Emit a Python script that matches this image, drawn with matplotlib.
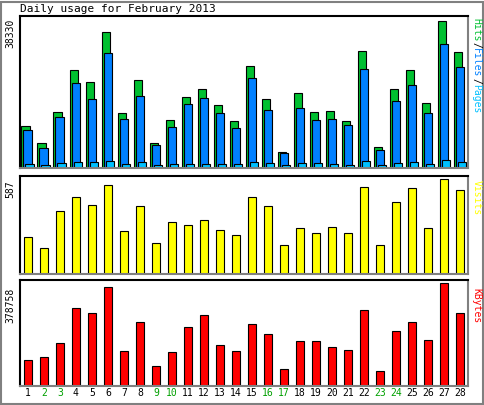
import matplotlib
matplotlib.use("Agg")
import matplotlib.pyplot as plt
from matplotlib.patches import Rectangle

days = list(range(1, 29))
hits = [10840, 6610, 14540, 25380, 22470, 35420, 14270, 23000, 6610, 12420, 18500, 20620, 16390, 12160,
        26430, 17970, 4230, 19560, 14540, 14800, 12160, 30400, 5550, 20620, 25380, 16920, 38330, 30130]
files = [9780, 5290, 13220, 22200, 17970, 29870, 12690, 18770, 6080, 10570, 16650, 18240, 14270, 10310,
         23520, 15070, 3960, 15590, 12420, 12690, 11100, 25640, 4760, 17440, 21670, 14270, 32250, 26170]
pages = [1100, 800, 1300, 1600, 1500, 1900, 1000, 1600, 800, 1000, 1000, 1000, 1000, 1000,
         1700, 1300, 800, 1300, 1300, 1000, 800, 1900, 800, 1300, 1500, 1000, 2200, 1700]
visits = [232, 161, 387, 477, 426, 548, 264, 419, 194, 323, 303, 335, 271, 239,
          477, 419, 181, 284, 252, 290, 252, 535, 181, 445, 529, 284, 587, 522]
kbytes = [97600, 109300, 160100, 289000, 269400, 367000, 128900, 238200, 74200, 125000, 218700, 261600, 152300, 128900,
          230400, 191300, 62500, 167900, 167900, 144500, 132800, 281200, 54700, 203100, 238200, 171800, 378758, 269400]
weekend = [2, 3, 9, 10, 16, 17, 23, 24]
title = "Daily usage for February 2013"

FONT = "DejaVu Sans Mono"
fig = plt.figure(figsize=(4.85, 4.05), dpi=100)
fig.patch.set_facecolor("white")
fig.add_artist(Rectangle((0.002, 0.002), 0.994, 0.994, transform=fig.transFigure,
                         fill=False, edgecolor="#808080", linewidth=1.5))

def mkax(bottom, height, ymax):
    ax = fig.add_axes([0.041, bottom, 0.924, height])
    ax.set_xlim(0.5, 28.5)
    ax.set_ylim(0, ymax * 1.03)
    ax.set_xticks([]); ax.set_yticks([])
    for s in ax.spines.values():
        s.set_edgecolor("#808080"); s.set_linewidth(1.5)
    ax.spines["top"].set_edgecolor("black"); ax.spines["left"].set_edgecolor("black")
    return ax

# top
ax1 = mkax(0.585, 0.375, max(hits))
w = 0.55
ax1.bar([d - 0.125 for d in days], hits, width=w, color="#00c030", edgecolor="black", linewidth=0.8)
ax1.bar(days, files, width=w, color="#0080ff", edgecolor="black", linewidth=0.8)
ax1.bar([d + 0.125 for d in days], pages, width=w, color="#00c0ff", edgecolor="black", linewidth=0.8)
fig.text(0.041, 0.965, title, family=FONT, fontsize=8, ha="left", va="bottom")
fig.text(0.022, 0.955, str(max(hits)), family=FONT, fontsize=7, rotation=90, ha="center", va="top")
y = 0.955
for word, col in [("Hits", "#00c030"), ("/", "black"), ("Files", "#0080ff"), ("/", "black"), ("Pages", "#00c0ff")]:
    fig.text(0.982, y, word, family=FONT, fontsize=7, rotation=270, ha="center", va="top", color=col)
    y -= len(word) * 0.0148

# visits
ax2 = mkax(0.323, 0.242, max(visits))
ax2.bar(days, visits, width=0.5, color="#ffff00", edgecolor="black", linewidth=0.8)
fig.text(0.022, 0.555, str(max(visits)), family=FONT, fontsize=7, rotation=90, ha="center", va="top")
fig.text(0.982, 0.555, "Visits", family=FONT, fontsize=7, rotation=270, ha="center", va="top", color="#ffff00")

# kbytes
ax3 = mkax(0.046, 0.262, max(kbytes))
ax3.bar(days, kbytes, width=0.5, color="#ff0000", edgecolor="black", linewidth=0.8)
fig.text(0.022, 0.29, str(max(kbytes)), family=FONT, fontsize=7, rotation=90, ha="center", va="top")
fig.text(0.982, 0.29, "KBytes", family=FONT, fontsize=7, rotation=270, ha="center", va="top", color="#ff0000")

for d in days:
    ax3.text(d, -0.015, str(d), transform=ax3.get_xaxis_transform(), ha="center", va="top",
             family=FONT, fontsize=7, color="#00a000" if d in weekend else "black")

fig.savefig("out.png", dpi=100)
